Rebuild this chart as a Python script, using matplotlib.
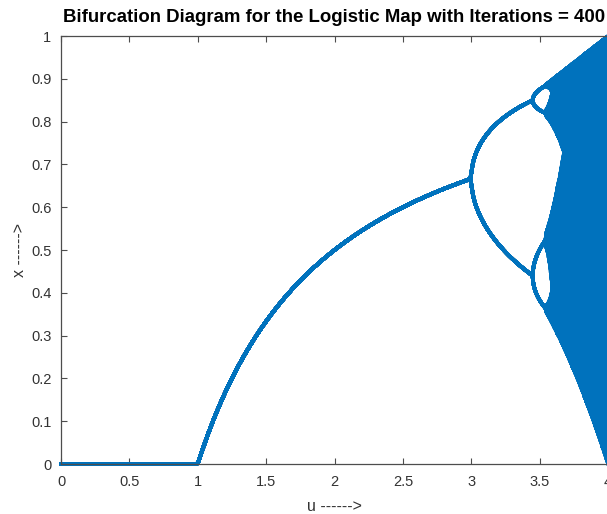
"""Bifurcation diagram of the logistic map, MATLAB-style look."""

import matplotlib

matplotlib.use("Agg")

import matplotlib.pyplot as plt
import numpy as np

# Parameters of the diagram (the title's "Iterations = 400").
U_START = 0.0
U_STOP = 4.0
U_STEP = 0.001
ITERATIONS = 400
KEEP_LAST = 100
X_START = 0.2

X_TICKS = [0, 0.5, 1, 1.5, 2, 2.5, 3, 3.5, 4]
X_TICK_LABELS = ["0", "0.5", "1", "1.5", "2", "2.5", "3", "3.5", "4"]
Y_TICKS = [0, 0.1, 0.2, 0.3, 0.4, 0.5, 0.6, 0.7, 0.8, 0.9, 1]
Y_TICK_LABELS = ["0", "0.1", "0.2", "0.3", "0.4", "0.5", "0.6", "0.7", "0.8", "0.9", "1"]

BLUE = "#0072BD"
AXIS_GRAY = "#4D4D4D"
TEXT_GRAY = "#333333"

plt.rcParams["font.family"] = ["Liberation Sans", "DejaVu Sans"]

# iterate the logistic map for every u, keep the tail
u = np.arange(U_START, U_STOP + U_STEP / 2, U_STEP)
x = np.full_like(u, X_START)
tail = []
for n in range(ITERATIONS):
    x = u * x * (1 - x)
    if n >= ITERATIONS - KEEP_LAST:
        tail.append(x.copy())
tail = np.array(tail)

fig = plt.figure(figsize=(6.07, 5.14), dpi=100)
fig.patch.set_facecolor("white")
ax = fig.add_axes([61 / 607, 50 / 514, 547 / 607, 428 / 514])

# one line per kept iteration, drawn across u (the chaotic zone fills in)
ax.plot(
    u, tail.T, color=BLUE, linewidth=2.6,
    solid_capstyle="round", solid_joinstyle="round", clip_on=False,
)

ax.set_xlim(0, 4)
ax.set_ylim(0, 1)
ax.set_xticks(X_TICKS)
ax.set_xticklabels(X_TICK_LABELS)
ax.set_yticks(Y_TICKS)
ax.set_yticklabels(Y_TICK_LABELS)

ax.spines["right"].set_visible(False)
for side in ("left", "bottom", "top"):
    ax.spines[side].set_color(AXIS_GRAY)
    ax.spines[side].set_linewidth(0.9)
ax.tick_params(
    direction="in", length=4, width=0.8, color=AXIS_GRAY,
    labelcolor=TEXT_GRAY, labelsize=10.5, top=True, right=False,
)
ax.tick_params(axis="x", pad=8)
ax.tick_params(axis="y", pad=7)

ax.set_title(
    "Bifurcation Diagram for the Logistic Map with Iterations = 400",
    fontsize=13.4, fontweight="bold", color="black", pad=10,
)
ax.set_xlabel("u ------>", fontsize=11.5, color=TEXT_GRAY, labelpad=7)
ax.set_ylabel("x ------>", fontsize=11.5, color=TEXT_GRAY, labelpad=3)

fig.savefig("out.png", dpi=100, facecolor="white")
